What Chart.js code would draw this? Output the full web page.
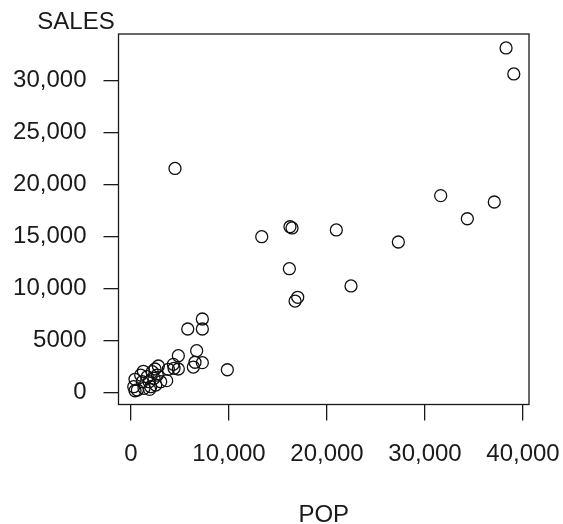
<!DOCTYPE html>
<html>
<head>
<meta charset="utf-8">
<script src="https://cdn.jsdelivr.net/npm/chart.js@4/dist/chart.umd.min.js"></script>
<style>
  html, body { margin: 0; padding: 0; background: #fff; }
  #wrap { width: 563px; height: 524px; }
</style>
</head>
<body>
<div id="wrap"><canvas id="chart"></canvas></div>
<script>
// population vs sales
const popValues = [
    38270, 39060, 4490, 31600, 37070, 34320, 27280, 20950, 16220, 16430,
    13340, 16160, 22450, 17010, 16740,
    7280, 5790, 7280, 6700, 4830, 6530, 7280, 6360, 4320, 4830,
    3810, 2790, 2450, 9830, 3640, 1260, 410, 410,
    4390, 2170, 990, 280, 650, 1330, 2010, 2520, 1840, 1150,
    2350, 2680, 1660, 3030, 1900
];
const salesValues = [
    33150, 30650, 21560, 18940, 18330, 16720, 14480, 15640, 15950, 15830,
    14990, 11910, 10250, 9160, 8800,
    7070, 6110, 6110, 4020, 3540, 2910, 2870, 2450, 2710, 2260,
    2230, 2550, 2260, 2190, 1140, 2040, 1270, 170,
    2330, 2000, 1680, 560, 240, 400, 560, 720, 1040, 1040,
    1370, 1680, 1520, 1040, 300
];
const xTicks = [0, 10000, 20000, 30000, 40000];
const yTicks = [0, 5000, 10000, 15000, 20000, 25000, 30000];
const xTitle = 'POP';
const yTitle = 'SALES';

const FONT = '"Liberation Sans", Arial, Helvetica, sans-serif';
const INK = '#1a1a1a';

const points = popValues.map((p, i) => ({ x: p, y: salesValues[i] }));

function fmt(v) {
    // R style: 5000 stays plain, larger values get a comma
    return v >= 10000 ? v.toLocaleString('en-US') : String(v);
}

const frame = {
    id: 'frame',
    afterDraw(chart) {
        const { ctx, chartArea: a } = chart;
        ctx.save();
        ctx.strokeStyle = INK;
        ctx.lineWidth = 1.3;
        ctx.strokeRect(a.left, a.top, a.right - a.left, a.bottom - a.top);
        ctx.fillStyle = INK;
        ctx.font = '24px ' + FONT;
        ctx.textBaseline = 'alphabetic';
        ctx.textAlign = 'center';
        ctx.fillText(xTitle, (a.left + a.right) / 2, 521.5);
        ctx.fillText(yTitle, 76, 29);
        ctx.restore();
    }
};

new Chart(document.getElementById('chart').getContext('2d'), {
    type: 'scatter',
    data: {
        datasets: [{
            data: points,
            pointStyle: 'circle',
            pointRadius: 6,
            pointBorderWidth: 1.3,
            borderColor: '#111',
            backgroundColor: 'rgba(0,0,0,0)'
        }]
    },
    options: {
        responsive: true,
        maintainAspectRatio: false,
        animation: false,
        events: [],
        layout: { padding: { top: 34, right: 34, left: 0, bottom: 0 } },
        plugins: { legend: { display: false }, tooltip: { enabled: false } },
        scales: {
            x: {
                type: 'linear',
                min: -1276,
                max: 40612,
                afterBuildTicks: s => { s.ticks = xTicks.map(v => ({ value: v })); },
                afterFit: s => { s.height = 119.5; s.paddingLeft = 0; s.paddingRight = 0; },
                border: { display: false },
                grid: { drawOnChartArea: false, drawTicks: true, tickLength: 16, color: INK, lineWidth: 1.3 },
                ticks: {
                    color: INK,
                    padding: 19,
                    maxRotation: 0,
                    autoSkip: false,
                    font: { family: FONT, size: 24 },
                    callback: v => fmt(v)
                }
            },
            y: {
                type: 'linear',
                min: -1155,
                max: 34494,
                afterBuildTicks: s => { s.ticks = yTicks.map(v => ({ value: v })); },
                afterFit: s => { s.width = 118.5; s.paddingTop = 0; s.paddingBottom = 0; },
                border: { display: false },
                grid: { drawOnChartArea: false, drawTicks: true, tickLength: 15, color: INK, lineWidth: 1.3 },
                ticks: {
                    color: INK,
                    padding: 17,
                    autoSkip: false,
                    font: { family: FONT, size: 24 },
                    callback: v => fmt(v)
                }
            }
        }
    },
    plugins: [frame]
});
</script>
</body>
</html>
